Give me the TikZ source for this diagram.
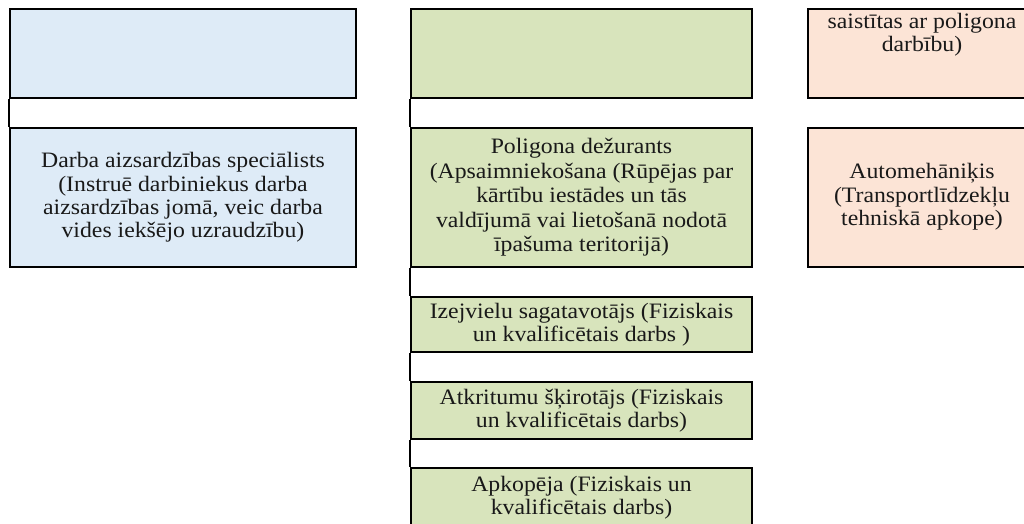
\documentclass[tikz,border=0pt]{standalone}
\usepackage{fontspec}
\setmainfont{Liberation Serif}[FakeStretch=1.08]
\definecolor{boxblue}{RGB}{222,235,247}
\definecolor{boxgreen}{RGB}{216,228,188}
\definecolor{boxpeach}{RGB}{252,228,214}
\tikzset{
  orgbox/.style={draw=black, line width=2pt, rectangle, inner sep=0pt, align=center,
    font=\fontsize{22}{23.3}\selectfont, text=black!90},
  bluebox/.style={orgbox, fill=boxblue},
  greenbox/.style={orgbox, fill=boxgreen},
  peachbox/.style={orgbox, fill=boxpeach},
  link/.style={draw=black, line width=2pt}
}
\begin{document}
\begin{tikzpicture}[x=1pt, y=-1pt]
\useasboundingbox (0,0) rectangle (1024,524);
\clip (0,0) rectangle (1024,524);
\fill[white] (0,0) rectangle (1024,524);
% left column
\node[bluebox, minimum width=346pt, minimum height=89pt] (A1) at (183,53.5) {};
\node[bluebox, minimum width=346pt, minimum height=139pt] (A2) at (183,197.5)
  {Darba aizsardzības speciālists\\(Instruē darbiniekus darba\\aizsardzības jomā, veic darba\\vides iekšējo uzraudzību)};
% middle column
\node[greenbox, minimum width=341pt, minimum height=89pt] (B1) at (581.5,53.5) {};
\node[greenbox, minimum width=341pt, minimum height=139pt, font=\fontsize{22}{24.5}\selectfont] (B2) at (581.5,197.5)
  {Poligona dežurants\\(Apsaimniekošana (Rūpējas par\\kārtību iestādes un tās\\valdījumā vai lietošanā nodotā\\īpašuma teritorijā)};
\node[greenbox, minimum width=341pt, minimum height=55pt] (B3) at (581.5,324.5)
  {Izejvielu sagatavotājs (Fiziskais\\un kvalificētais darbs )};
\node[greenbox, minimum width=341pt, minimum height=57pt] (B4) at (581.5,410.5)
  {Atkritumu šķirotājs (Fiziskais\\un kvalificētais darbs)};
\node[greenbox, minimum width=341pt, minimum height=60pt] (B5) at (581.5,498)
  {Apkopēja (Fiziskais un\\kvalificētais darbs)};
% right column
\node[peachbox, minimum width=228pt, minimum height=89pt] (C1) at (922,53.5) {};
\node[orgbox, draw=none, fill=none, anchor=north] (C1t) at (922,12)
  {saistītas ar poligona\\darbību)};
\node[peachbox, minimum width=228pt, minimum height=139pt] (C2) at (922,197.5)
  {\raisebox{-5pt}{\begin{tabular}{@{}c@{}}Automehāniķis\\(Transportlīdzekļu\\tehniskā apkope)\end{tabular}}};
% connectors
\draw[link] (A1.south west) -- (A2.north west);
\draw[link] (B1.south west) -- (B2.north west);
\draw[link] (B2.south west) -- (B3.north west);
\draw[link] (B3.south west) -- (B4.north west);
\draw[link] (B4.south west) -- (B5.north west);
\end{tikzpicture}
\end{document}
